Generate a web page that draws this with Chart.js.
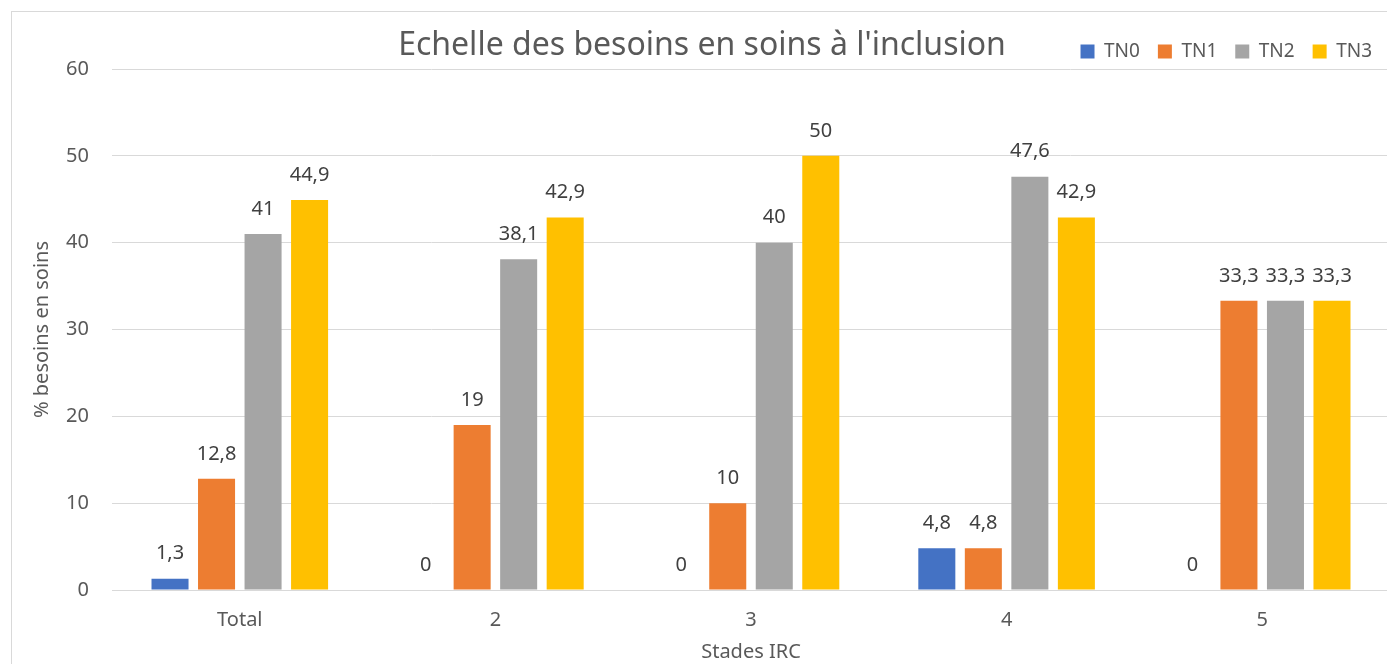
<!DOCTYPE html>
<html>
<head>
<meta charset="utf-8">
<script src="https://cdn.jsdelivr.net/npm/chart.js@4.4.0/dist/chart.umd.min.js"></script>
<style>
  html, body { margin: 0; padding: 0; background: #fff; overflow: hidden; }
  #wrap { width: 1387px; height: 664px; overflow: hidden; position: relative; }
  canvas { position: absolute; left: 0; top: 0; }
</style>
</head>
<body>
<div id="wrap"><canvas id="c" width="1400" height="664"></canvas></div>
<script>
const categories = ['Total', '2', '3', '4', '5'];
const seriesNames = ['TN0', 'TN1', 'TN2', 'TN3'];
const tn0 = [1.3, 0, 0, 4.8, 0];
const tn1 = [12.8, 19, 10, 4.8, 33.3];
const tn2 = [41, 38.1, 40, 47.6, 33.3];
const tn3 = [44.9, 42.9, 50, 42.9, 33.3];
const yTicks = [0, 10, 20, 30, 40, 50, 60];
const chartTitle = "Echelle des besoins en soins à l'inclusion";
const xTitle = 'Stades IRC';
const yTitle = '% besoins en soins';

const colors = ['#4472C4', '#ED7D31', '#A5A5A5', '#FFC000'];
const FONT = "'Noto Sans', 'Open Sans', sans-serif";

const frameAndTitle = {
  id: 'frameAndTitle',
  afterInit(chart) {
    const lg = chart.legend;
    if (lg && !lg._shrunk) {
      const orig = lg.fit.bind(lg);
      lg.fit = function () { orig(); this.height -= 2; };
      lg._shrunk = true;
    }
  },
  beforeDraw(chart) {
    const ctx = chart.ctx;
    ctx.save();
    ctx.strokeStyle = '#d9d9d9';
    ctx.lineWidth = 1;
    ctx.strokeRect(11.5, 11.5, 2000, 2000);
    ctx.restore();
  },
  afterDraw(chart) {
    const ctx = chart.ctx;
    ctx.save();
    ctx.fillStyle = '#595959';
    ctx.font = '32px ' + FONT;
    ctx.textAlign = 'center';
    ctx.textBaseline = 'middle';
    ctx.fillText(chartTitle, 702, 46);
    ctx.restore();
  }
};

const dataLabels = {
  id: 'dataLabels',
  afterDatasetsDraw(chart) {
    const ctx = chart.ctx;
    ctx.save();
    ctx.fillStyle = '#404040';
    ctx.font = '20px ' + FONT;
    ctx.textAlign = 'center';
    ctx.textBaseline = 'middle';
    chart.data.datasets.forEach((ds, i) => {
      const meta = chart.getDatasetMeta(i);
      meta.data.forEach((bar, j) => {
        const v = ds.data[j];
        ctx.fillText(String(v).replace('.', ','), bar.x, bar.y - 25);
      });
    });
    ctx.restore();
  }
};

new Chart(document.getElementById('c'), {
  type: 'bar',
  data: {
    labels: categories,
    datasets: [tn0, tn1, tn2, tn3].map((d, i) => ({
      label: seriesNames[i],
      data: d,
      backgroundColor: colors[i],
      borderWidth: 0,
      categoryPercentage: 0.728,
      barPercentage: 0.796
    }))
  },
  options: {
    responsive: false,
    devicePixelRatio: 1,
    animation: false,
    layout: { padding: { top: 24, right: 10, left: 0, bottom: 0 } },
    plugins: {
      title: { display: false },
      tooltip: { enabled: false },
      legend: {
        display: true,
        position: 'top',
        align: 'end',
        labels: {
          boxWidth: 14,
          boxHeight: 14,
          padding: 18,
          color: '#595959',
          font: { family: FONT, size: 19 }
        }
      }
    },
    scales: {
      x: {
        grid: { display: false, drawTicks: false },
        border: { display: true, color: '#d9d9d9', width: 1 },
        ticks: { color: '#595959', font: { family: FONT, size: 20 }, padding: 18 },
        title: { display: true, text: xTitle, color: '#595959', font: { family: FONT, size: 20 }, padding: { top: 0, bottom: 0 } },
        afterFit(scale) { scale.height = 74; }
      },
      y: {
        min: 0, max: 60,
        afterBuildTicks(scale) { scale.ticks = yTicks.map(v => ({ value: v })); },
        grid: { color: '#d9d9d9', lineWidth: 1, drawTicks: false },
        border: { display: false },
        ticks: { color: '#595959', font: { family: FONT, size: 20 }, padding: 23 },
        title: { display: true, text: yTitle, color: '#595959', font: { family: FONT, size: 20 }, padding: { top: 30, bottom: 0 } },
        afterFit(scale) { scale.width = 112; }
      }
    }
  },
  plugins: [frameAndTitle, dataLabels]
});
</script>
</body>
</html>
